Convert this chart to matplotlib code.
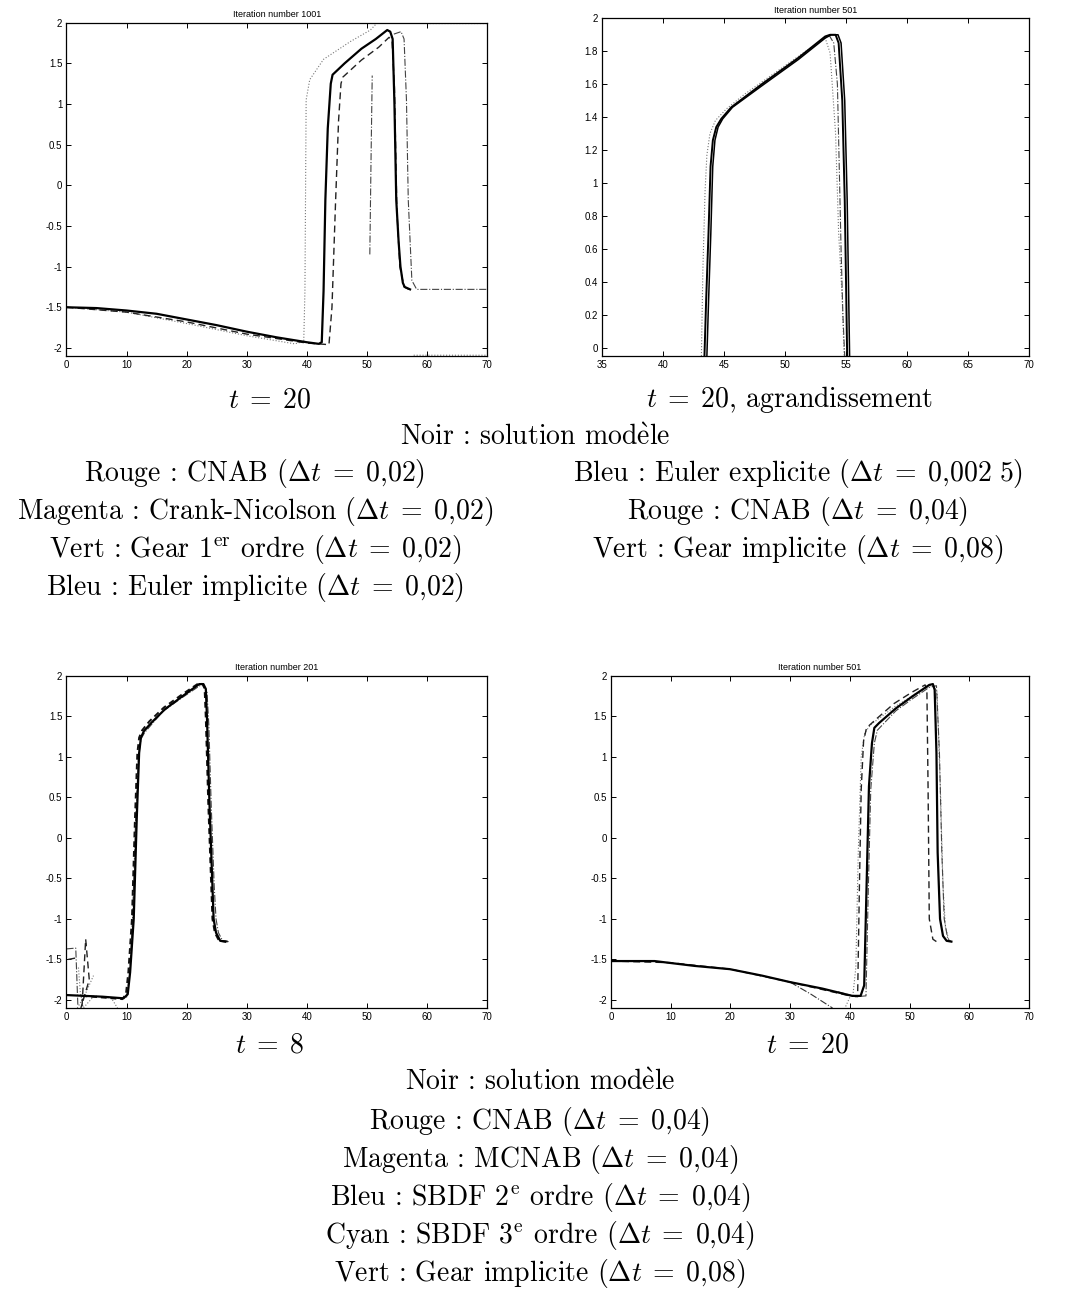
import numpy as np
import matplotlib
matplotlib.use("Agg")
from matplotlib import pyplot as plt

plt.rcParams['mathtext.fontset'] = 'cm'
plt.rcParams['font.family'] = ['Liberation Sans', 'DejaVu Sans']
nan = np.nan

# ---- panel 1 : t = 20, iteration 1001 ----
p1_black_x = [0, 5, 10, 15, 20, 25, 30, 35, 40, 42, 42.5, 42.8, 43.1, 43.5, 44.0, 44.3, 46.3, 49.1, 51.5, 53.4, 53.9, 54.3, 54.6, 54.9, 55.3, 55.6, 56.0, 56.3, 57.2]
p1_black_y = [-1.5, -1.51, -1.54, -1.58, -1.65, -1.72, -1.8, -1.87, -1.93, -1.95, -1.93, -1.3, -0.18, 0.7, 1.25, 1.36, 1.5, 1.68, 1.8, 1.91, 1.89, 1.8, 1.0, -0.18, -0.7, -1.0, -1.2, -1.25, -1.28]
p1_dash_x = [0, 10, 20, 30, 40, 43.7, 44.2, 44.8, 45.3, 45.7, 46.0, 49.1, 52.0, 53.7, 54.2, 54.6, 55.0, 55.5, 56.2, 57.0]
p1_dash_y = [-1.5, -1.56, -1.68, -1.83, -1.94, -1.96, -1.5, -0.2, 0.8, 1.25, 1.33, 1.54, 1.7, 1.82, 1.78, 1.2, -0.3, -1.0, -1.25, -1.28]
p1_dashdot_x = [50.5, 50.7, 50.9, nan, 54.5, 55.7, 56.2, 56.6, 56.9, 57.5, 58.3, 62, 70]
p1_dashdot_y = [-0.85, 0.3, 1.35, nan, 1.86, 1.89, 1.8, 1.05, -0.18, -1.17, -1.28, -1.28, -1.28]
p1_dot_x = [0, 10, 20, 30, 38, 39.5, 39.7, 39.9, 40.5, 42.8, 47.3, 50.6, 53.0, nan, 57.8, 70, nan, 60, 70]
p1_dot_y = [-1.5, -1.56, -1.7, -1.85, -1.95, -1.92, -1.3, 1.05, 1.3, 1.55, 1.77, 1.91, 2.1, nan, -2.09, -2.09, nan, 1.99, 1.99]

# ---- panel 2 : t = 20, zoom, iteration 501 ----
p2_solid1_x = [43.4, 43.54, 43.73, 43.9, 44.09, 44.37, 44.78, 45.6, 48.1, 51.1, 53.3, 53.7, 54.15, 54.4, 54.7, 54.9, 55.03, 55.1]
p2_solid1_y = [-0.05, 0.29, 0.69, 1.1, 1.26, 1.34, 1.39, 1.46, 1.6, 1.76, 1.89, 1.9, 1.9, 1.85, 1.5, 0.9, 0.29, -0.05]
p2_solid2_x = [43.6, 43.74, 43.92, 44.08, 44.26, 44.52, 44.9, 45.7, 48.1, 51.1, 53.3, 53.8, 54.35, 54.6, 54.9, 55.1, 55.23, 55.3]
p2_solid2_y = [-0.05, 0.29, 0.69, 1.1, 1.26, 1.34, 1.39, 1.46, 1.59, 1.75, 1.88, 1.9, 1.9, 1.85, 1.5, 0.9, 0.29, -0.05]
p2_dot_x = [43.15, 43.27, 43.45, 43.6, 43.85, 44.3, 45.2, 46.7, 49.0, 51.5, 53.3, 53.7, 54.15, 54.4, 54.7, 54.85]
p2_dot_y = [-0.05, 0.47, 0.95, 1.17, 1.3, 1.38, 1.45, 1.54, 1.66, 1.79, 1.88, 1.79, 1.3, 0.7, 0.29, -0.05]
p2_dashdot_x = [53.6, 54.0, 54.3, 54.45, 54.6, 54.75, 54.9]
p2_dashdot_y = [1.9, 1.85, 1.6, 1.1, 0.6, 0.2, -0.05]

# ---- panel 3 : t = 8, iteration 201 ----
p3_black_x = [0, 6, 9.5, 10.2, 10.6, 11.2, 11.7, 12.1, 12.4, 12.9, 14.1, 16.4, 19.3, 22.1, 22.8, 23.2, 23.4, 23.8, 24.3, 24.5, 24.9, 25.6, 26.4]
p3_black_y = [-1.94, -1.96, -1.98, -1.93, -1.66, -1.0, 0.23, 1.05, 1.24, 1.32, 1.42, 1.59, 1.75, 1.9, 1.9, 1.84, 1.47, 0.44, -0.59, -1.0, -1.17, -1.27, -1.28]
p3_dash_x = [2.5, 6, 9.3, 9.9, 10.3, 10.9, 11.4, 11.8, 12.1, 12.6, 13.8, 16.2, 19.2, 22.0, 22.7, 23.0, 23.2, 23.6, 24.1, 24.3, 24.7, 25.4, 27.0]
p3_dash_y = [-1.95, -1.97, -1.99, -1.93, -1.66, -1.0, 0.23, 1.05, 1.24, 1.33, 1.44, 1.61, 1.77, 1.91, 1.9, 1.84, 1.47, 0.44, -0.59, -1.0, -1.17, -1.27, -1.28]
p3_dashdot_x = [0, 1.55, 1.9, nan, 10.0, 10.5, 11.0, 11.5, 12.0, 12.4, 13, 16, 19, 22.2, 22.9, 23.4, 23.7, 24.1, 24.6, 24.9, 25.3, 26.0, 27.0]
p3_dashdot_y = [-1.37, -1.36, -2.07, nan, -1.97, -1.7, -1.0, 0.2, 1.0, 1.22, 1.3, 1.56, 1.72, 1.88, 1.88, 1.8, 1.4, 0.4, -0.6, -1.0, -1.17, -1.27, -1.28]
p3_spike_x = [0.3, 1.7, nan, 2.6, 3.2, 3.8, 2.4]
p3_spike_y = [-1.5, -1.48, nan, -2.07, -1.25, -1.75, -2.1]
p3_dot_x = [1.8, 3.0, 4.5, nan, 2.0, 2.3, 2.8, 4.6, 7.5, 8.5]
p3_dot_y = [-2.1, -1.95, -1.7, nan, -1.6, -1.9, -2.1, -1.95, -1.98, -2.1]

# ---- panel 4 : t = 20, iteration 501 ----
p4_black_x = [0, 7.3, 14.0, 19.9, 25.3, 30.0, 35.4, 40.4, 41.8, 42.4, 42.8, 43.2, 43.7, 44.1, 44.9, 47.7, 50.5, 53.3, 53.9, 54.2, 54.5, 54.7, 55.1, 55.6, 56.2, 57.0]
p4_black_y = [-1.52, -1.52, -1.58, -1.62, -1.7, -1.78, -1.86, -1.95, -1.95, -1.82, -0.59, 0.64, 1.17, 1.36, 1.42, 1.6, 1.75, 1.89, 1.9, 1.83, 1.05, -0.18, -1.0, -1.21, -1.27, -1.28]
p4_dash_x = [0, 10, 20, 30, 40, 41.3, 41.6, 41.9, 42.3, 42.8, 44.6, 47.4, 50.4, 52.6, 52.9, 53.1, 53.3, 53.9, 54.5]
p4_dash_y = [-1.52, -1.54, -1.62, -1.78, -1.95, -1.96, -0.6, 0.6, 1.2, 1.36, 1.48, 1.66, 1.8, 1.89, 1.83, 0.6, -1.0, -1.25, -1.28]
p4_dashdot_x = [38, 41, 42.7, 43.1, 43.5, 44.1, 44.6, 47.7, 50.5, 53.3, 54.5, 55.0, 55.4, 55.8, 56.4, 57.0]
p4_dashdot_y = [-1.9, -1.96, -1.95, -0.6, 0.6, 1.17, 1.33, 1.57, 1.72, 1.86, 1.88, 1.05, -0.18, -1.0, -1.25, -1.28]
p4_dot_x = [40.5, 41.0, 41.4, 41.9, 42.5, 43.5, 47.5, 51, 54.0, 54.6, 55.2, 55.6, 56.0, 56.6, nan, 39.3, 40.1]
p4_dot_y = [-1.95, -1.6, -0.2, 1.0, 1.3, 1.4, 1.62, 1.78, 1.9, 1.8, 0.5, -0.6, -1.1, -1.27, nan, -2.08, -1.95]
p4_gear_x = [30.0, 33.5, 37.1]
p4_gear_y = [-1.78, -1.93, -2.1]

titles = ["Iteration number 1001", "Iteration number 501", "Iteration number 201", "Iteration number 501"]

cap_left = [r"Rouge : CNAB ($\Delta t\;=\;0{,}02$)",
            r"Magenta : Crank-Nicolson ($\Delta t\;=\;0{,}02$)",
            r"Vert : Gear $1^{\mathrm{er}}$ ordre ($\Delta t\;=\;0{,}02$)",
            r"Bleu : Euler implicite ($\Delta t\;=\;0{,}02$)"]
cap_right = [r"Bleu : Euler explicite ($\Delta t\;=\;0{,}002\ 5$)",
             r"Rouge : CNAB ($\Delta t\;=\;0{,}04$)",
             r"Vert : Gear implicite ($\Delta t\;=\;0{,}08$)"]
cap_bottom = [r"Noir : solution mod$\grave{\mathrm{e}}$le",
              r"Rouge : CNAB ($\Delta t\;=\;0{,}04$)",
              r"Magenta : MCNAB ($\Delta t\;=\;0{,}04$)",
              r"Bleu : SBDF $2^{\mathrm{e}}$ ordre ($\Delta t\;=\;0{,}04$)",
              r"Cyan : SBDF $3^{\mathrm{e}}$ ordre ($\Delta t\;=\;0{,}04$)",
              r"Vert : Gear implicite ($\Delta t\;=\;0{,}08$)"]

fig = plt.figure(figsize=(10.7, 12.98), dpi=100)

ax1 = fig.add_axes([0.0621, 0.7257, 0.393, 0.2568])
ax2 = fig.add_axes([0.5626, 0.7257, 0.399, 0.2602])
ax3 = fig.add_axes([0.0621, 0.2234, 0.393, 0.2558])
ax4 = fig.add_axes([0.571, 0.2234, 0.3907, 0.2558])

solid = dict(color='black', lw=1.6, ls='-')
dash = dict(color='#222222', lw=1.0, ls=(0, (5, 3)))
dashdot = dict(color='#444444', lw=0.8, ls='-.')
dot = dict(color='#777777', lw=0.8, ls=':')

ax1.plot(p1_dot_x, p1_dot_y, **dot)
ax1.plot(p1_dashdot_x, p1_dashdot_y, **dashdot)
ax1.plot(p1_dash_x, p1_dash_y, **dash)
ax1.plot(p1_black_x, p1_black_y, **solid)

ax2.plot(p2_dot_x, p2_dot_y, **dot)
ax2.plot(p2_dashdot_x, p2_dashdot_y, **dashdot)
ax2.plot(p2_solid1_x, p2_solid1_y, color='black', lw=1.4)
ax2.plot(p2_solid2_x, p2_solid2_y, color='black', lw=1.1)

ax3.plot(p3_dot_x, p3_dot_y, **dot)
ax3.plot(p3_spike_x, p3_spike_y, **dash)
ax3.plot(p3_dashdot_x, p3_dashdot_y, **dashdot)
ax3.plot(p3_dash_x, p3_dash_y, color='#111111', lw=1.4, ls=(0, (3, 2)))
ax3.plot(p3_black_x, p3_black_y, **solid)

ax4.plot(p4_dot_x, p4_dot_y, **dot)
ax4.plot(p4_gear_x, p4_gear_y, color='#333333', lw=0.8, ls='-.')
ax4.plot(p4_dashdot_x, p4_dashdot_y, **dashdot)
ax4.plot(p4_dash_x, p4_dash_y, **dash)
ax4.plot(p4_black_x, p4_black_y, **solid)

for ax, t in zip([ax1, ax2, ax3, ax4], titles):
    ax.set_title(t, fontsize=6.5, pad=4)
    ax.tick_params(direction='in', top=True, right=True, length=3.5, width=0.7, labelsize=7, pad=3)
    for s in ax.spines.values():
        s.set_linewidth(0.9)

for ax in [ax1, ax3, ax4]:
    ax.set_xlim(0, 70)
    ax.set_ylim(-2.1, 2)
    ax.set_xticks(range(0, 71, 10))
    ax.set_yticks([-2, -1.5, -1, -0.5, 0, 0.5, 1, 1.5, 2])
    ax.set_yticklabels(['-2', '-1.5', '-1', '-0.5', '0', '0.5', '1', '1.5', '2'])

ax2.set_xlim(35, 70)
ax2.set_ylim(-0.05, 2)
ax2.set_xticks(range(35, 71, 5))
ax2.set_yticks([0, 0.2, 0.4, 0.6, 0.8, 1, 1.2, 1.4, 1.6, 1.8, 2])
ax2.set_yticklabels(['0', '0.2', '0.4', '0.6', '0.8', '1', '1.2', '1.4', '1.6', '1.8', '2'])

cm = ['cmr10', 'DejaVu Serif']
fs = 20
H = 1298.0
W = 1070.0


def cap(x, y, s):
    fig.text(x / W, 1 - y / H, s, ha='center', va='center', fontsize=fs, family=cm)


cap(270, 400, r"$t\;=\;20$")
cap(790, 400, r"$t\;=\;20$, agrandissement")
cap(535, 438, r"Noir : solution mod$\grave{\mathrm{e}}$le")
for i, s in enumerate(cap_left):
    cap(255, 474 + 38 * i, s)
for i, s in enumerate(cap_right):
    cap(798, 474 + 38 * i, s)

cap(270, 1045, r"$t\;=\;8$")
cap(808, 1045, r"$t\;=\;20$")
for i, s in enumerate(cap_bottom):
    cap(540, 1083 + 38 * i, s)

plt.savefig('out.png', dpi=100)
